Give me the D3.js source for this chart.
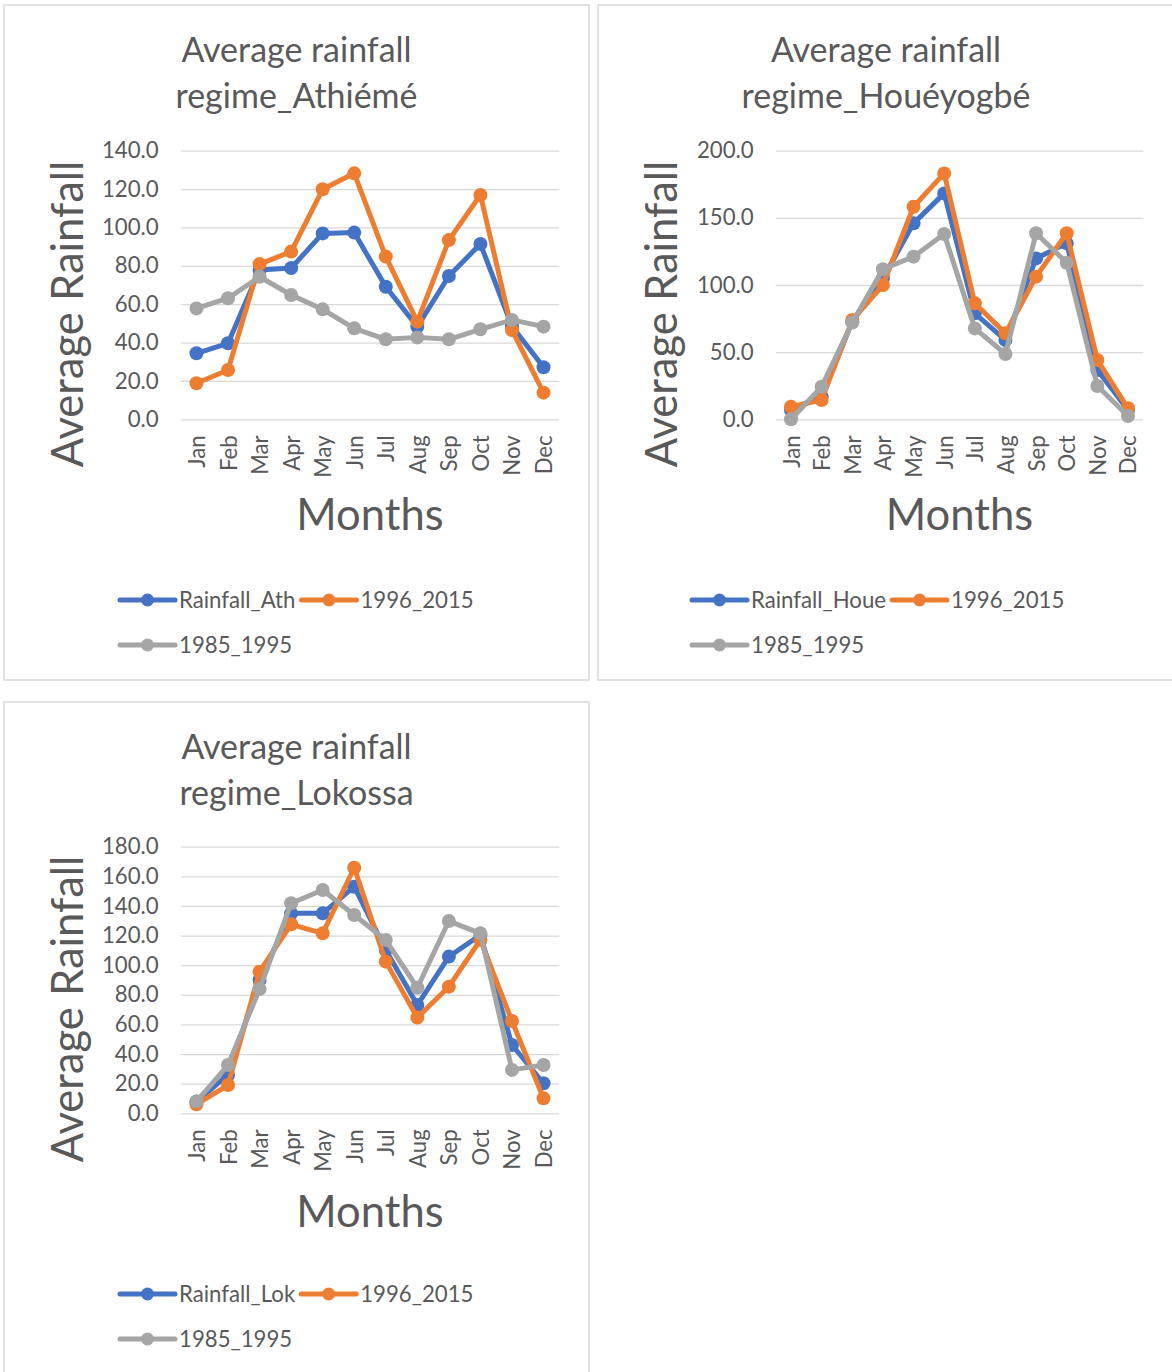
<!DOCTYPE html>
<html><head><meta charset="utf-8">
<script src="https://cdn.jsdelivr.net/npm/d3@7"></script>
<style>body{margin:0;background:#fff} svg{display:block}</style>
</head><body>
<svg id="c" width="1172" height="1372"></svg>
<script>
// ---------- DATA ----------
const months = ["Jan","Feb","Mar","Apr","May","Jun","Jul","Aug","Sep","Oct","Nov","Dec"];

const athTitle = ["Average rainfall", "regime_Athiémé"];
const athSeriesNames = ["Rainfall_Ath", "1996_2015", "1985_1995"];
const athRainfall = [34.4, 39.6, 77.8, 78.8, 96.9, 97.3, 69.1, 48.3, 74.7, 91.4, 48.5, 27.1];
const ath1996_2015 = [18.8, 25.7, 80.9, 87.4, 119.9, 128.2, 84.8, 50.9, 93.4, 116.9, 46.5, 13.9];
const ath1985_1995 = [57.8, 63.1, 74.3, 64.8, 57.3, 47.4, 41.7, 42.7, 41.7, 46.9, 51.8, 48.3];
const athTicks = [0, 20, 40, 60, 80, 100, 120, 140];

const houeTitle = ["Average rainfall", "regime_Houéyogbé"];
const houeSeriesNames = ["Rainfall_Houe", "1996_2015", "1985_1995"];
const houeRainfall = [7.0, 16.9, 72.7, 105.0, 145.9, 168.2, 78.9, 59.0, 119.8, 131.0, 36.7, 7.0];
const houe1996_2015 = [9.4, 14.4, 73.9, 100.0, 158.3, 183.1, 86.4, 64.0, 106.2, 138.5, 44.2, 8.2];
const houe1985_1995 = [0.0, 24.3, 72.0, 111.7, 121.1, 138.0, 67.7, 48.6, 138.5, 116.6, 24.8, 2.5];
const houeTicks = [0, 50, 100, 150, 200];

const lokTitle = ["Average rainfall", "regime_Lokossa"];
const lokSeriesNames = ["Rainfall_Lok", "1996_2015", "1985_1995"];
const lokRainfall = [7.9, 25.9, 90.0, 135.0, 135.0, 153.0, 110.3, 73.1, 105.8, 120.4, 46.1, 20.3];
const lok1996_2015 = [6.1, 19.1, 95.6, 127.6, 121.5, 165.8, 102.4, 64.6, 85.5, 117.0, 62.3, 10.1];
const lok1985_1995 = [7.9, 32.6, 83.9, 141.8, 150.8, 133.9, 117.0, 84.8, 129.8, 121.5, 29.3, 32.6];
const lokTicks = [0, 20, 40, 60, 80, 100, 120, 140, 160, 180];

const yAxisTitle = "Average Rainfall";
const xAxisTitle = "Months";

// ---------- STYLE ----------
const colors = ["#4472C4", "#ED7D31", "#A5A5A5"];
const textColor = "#595959";
const gridColor = "#d9d9d9";
const FONT = "Lato, 'Open Sans', sans-serif";

const svg = d3.select("#c");

// font scale: make Lato match Calibri-like widths
const probe = svg.append("text").attr("font-family", FONT).attr("font-size", 100).text("Average Rainfall");
const measured = probe.node().getComputedTextLength();
probe.remove();
const fr = 657 / measured;
const fsTitle = 36.4 * fr, fsAxisTitle = 46.7 * fr, fsTick = 23.8 * fr, fsLegend = 23.8 * fr;

const charts = [
  {title: athTitle, names: athSeriesNames, series: [athRainfall, ath1996_2015, ath1985_1995], ticks: athTicks,
   frame: {x: 4, y: 5, w: 585, h: 675}, plot: {l: 176.7, r: 555.3, t: 145.7, b: 414.3}, legend: {x: 116, y1: 595, y2: 640}},
  {title: houeTitle, names: houeSeriesNames, series: [houeRainfall, houe1996_2015, houe1985_1995], ticks: houeTicks,
   frame: {x: 598, y: 5, w: 576, h: 675}, plot: {l: 177.7, r: 545.3, t: 145.7, b: 414.3}, legend: {x: 94, y1: 595, y2: 640}},
  {title: lokTitle, names: lokSeriesNames, series: [lokRainfall, lok1996_2015, lok1985_1995], ticks: lokTicks,
   frame: {x: 4, y: 702, w: 585, h: 680}, plot: {l: 176.7, r: 555.3, t: 144.7, b: 411.3}, legend: {x: 116, y1: 592, y2: 637}}
];

charts.forEach(drawChart);

function drawChart(c) {
  const f = c.frame, p = c.plot;
  const g = svg.append("g").attr("transform", `translate(${f.x},${f.y})`);
  g.append("rect").attr("x", 0).attr("y", 0).attr("width", f.w).attr("height", f.h)
    .attr("fill", "#fff").attr("stroke", gridColor).attr("stroke-width", 1.5);

  // title
  c.title.forEach((t, i) => {
    g.append("text").attr("x", f.w / 2).attr("y", 57 + i * 46)
      .attr("text-anchor", "middle").attr("font-family", FONT).attr("font-size", fsTitle)
      .attr("fill", textColor).text(t);
  });

  const x = d3.scalePoint().domain(months).range([p.l, p.r]).padding(0.5);
  const y = d3.scaleLinear().domain([0, d3.max(c.ticks)]).range([p.b, p.t]);

  // y grid + labels
  const ya = g.append("g").attr("transform", `translate(${p.l},0)`)
    .call(d3.axisLeft(y).tickValues(c.ticks).tickFormat(d3.format(".1f"))
      .tickSize(-(p.r - p.l)).tickPadding(22));
  ya.select(".domain").remove();
  ya.selectAll("line").attr("stroke", gridColor).attr("stroke-width", 1.3);
  ya.selectAll("text").attr("font-family", FONT).attr("font-size", fsTick).attr("fill", textColor);

  // x labels
  const xa = g.append("g").attr("transform", `translate(0,${p.b})`)
    .call(d3.axisBottom(x).tickSize(0));
  xa.select(".domain").remove();
  xa.selectAll("text").attr("transform", "rotate(-90)").attr("text-anchor", "end")
    .attr("x", -16).attr("y", 0).attr("dy", "0.36em")
    .attr("font-family", FONT).attr("font-size", fsTick).attr("fill", textColor);

  // axis titles
  g.append("text").attr("transform", `translate(78.7,${(p.t + p.b) / 2 + 29}) rotate(-90)`)
    .attr("text-anchor", "middle").attr("font-family", FONT).attr("font-size", fsAxisTitle)
    .attr("fill", textColor).text(yAxisTitle);
  g.append("text").attr("x", (p.l + p.r) / 2).attr("y", 525)
    .attr("text-anchor", "middle").attr("font-family", FONT).attr("font-size", fsAxisTitle)
    .attr("fill", textColor).text(xAxisTitle);

  // series
  const line = d3.line().x((d, i) => x(months[i])).y(d => y(d));
  c.series.forEach((s, k) => {
    const sg = g.append("g");
    sg.append("path").datum(s).attr("d", line).attr("fill", "none")
      .attr("stroke", colors[k]).attr("stroke-width", 5)
      .attr("stroke-linejoin", "round").attr("stroke-linecap", "round");
    sg.selectAll("circle").data(s).join("circle")
      .attr("cx", (d, i) => x(months[i])).attr("cy", d => y(d)).attr("r", 7)
      .attr("fill", colors[k]);
  });

  // legend
  const L = c.legend;
  const rows = [[0, 1], [2]];
  rows.forEach((row, ri) => {
    let cx = L.x;
    const ly = ri === 0 ? L.y1 : L.y2;
    row.forEach(k => {
      const lg = g.append("g");
      lg.append("line").attr("x1", cx).attr("x2", cx + 55).attr("y1", ly).attr("y2", ly)
        .attr("stroke", colors[k]).attr("stroke-width", 5).attr("stroke-linecap", "round");
      lg.append("circle").attr("cx", cx + 27.5).attr("cy", ly).attr("r", 6.5).attr("fill", colors[k]);
      const t = lg.append("text").attr("x", cx + 59).attr("y", ly).attr("dy", "0.35em")
        .attr("font-family", FONT).attr("font-size", fsLegend).attr("fill", textColor).text(c.names[k]);
      cx = cx + 59 + t.node().getComputedTextLength() + 6;
    });
  });
}
</script>
</body></html>
